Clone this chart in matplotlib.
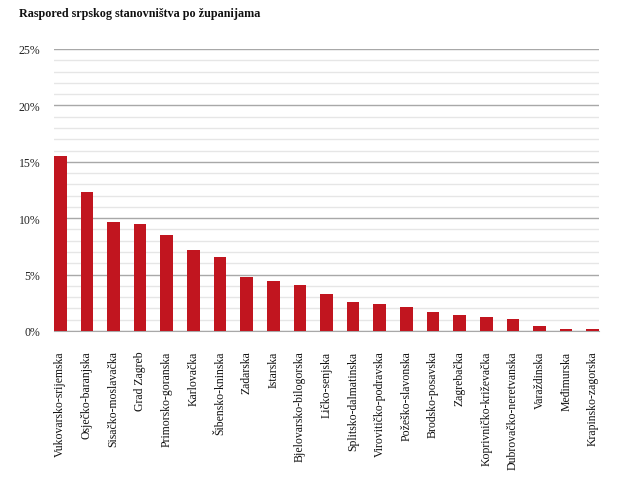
import numpy as np
import matplotlib.pyplot as plt
from matplotlib.ticker import MultipleLocator, FuncFormatter

zupanije = [
    'Vukovarsko-srijemska', 'Osječko-baranjska', 'Sisačko-moslavačka', 'Grad Zagreb',
    'Primorsko-goranska', 'Karlovačka', 'Šibensko-kninska', 'Zadarska', 'Istarska',
    'Bjelovarsko-bilogorska', 'Ličko-senjska', 'Splitsko-dalmatinska',
    'Virovitičko-podravska', 'Požeško-slavonska', 'Brodsko-posavska', 'Zagrebačka',
    'Koprivničko-križevačka', 'Dubrovačko-neretvanska', 'Varaždinska', 'Međimurska',
    'Krapinsko-zagorska',
]
udio = [15.5, 12.35, 9.7, 9.5, 8.5, 7.2, 6.6, 4.75, 4.45, 4.1, 3.3, 2.55,
        2.4, 2.15, 1.65, 1.4, 1.2, 1.1, 0.4, 0.15, 0.15]

plt.rcParams['font.family'] = ['Liberation Serif', 'DejaVu Serif']

fig = plt.figure(figsize=(6.2, 4.81), dpi=100)
ax = fig.add_axes([54 / 620, 1 - 332 / 481, 545 / 620, 282 / 481])

x = np.arange(len(zupanije))
w = 0.47
ax.bar(x, udio, width=w, color='#c1151f', zorder=3)

ax.set_xlim(-w / 2, len(zupanije) - 1 + w / 2)
ax.set_ylim(0, 25)
ax.yaxis.set_major_locator(MultipleLocator(5))
ax.yaxis.set_minor_locator(MultipleLocator(1))
ax.yaxis.set_major_formatter(FuncFormatter(lambda v, p: f'{v:.0f}%'))
ax.grid(axis='y', which='major', color='#a8a8a8', linewidth=1.0, zorder=1)
ax.grid(axis='y', which='minor', color='#e6e6e6', linewidth=1.0, zorder=1)
ax.tick_params(axis='y', which='both', length=0, pad=10, labelsize=8.5, colors='#222222')
ax.tick_params(axis='x', length=0, pad=14, labelsize=8.5, colors='#111111')
ax.set_xticks(x)
ax.set_xticklabels(zupanije, rotation=90, va='top', ha='center')
for s in ['top', 'right', 'left']:
    ax.spines[s].set_visible(False)
ax.spines['bottom'].set_color('#a8a8a8')

fig.text(19 / 620, 1 - 14 / 481, 'Raspored srpskog stanovništva po županijama',
         fontsize=8.7, fontweight='bold', va='center', ha='left', color='#111111')

fig.savefig('out.png', dpi=100)
